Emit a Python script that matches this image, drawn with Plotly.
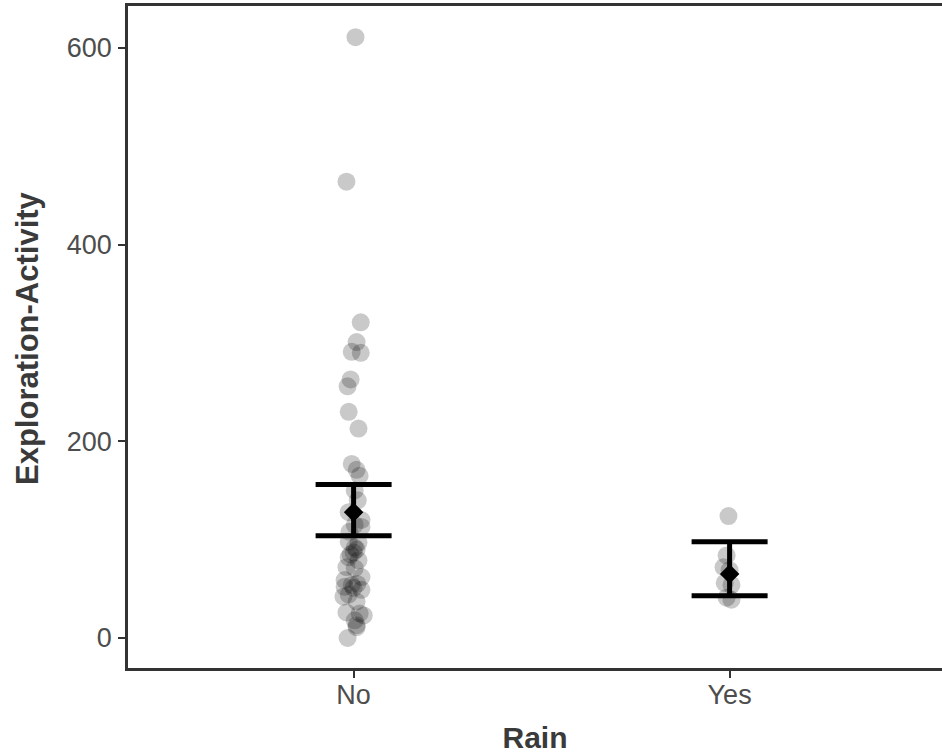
import plotly.graph_objects as go

# ---- data ----
categories = ["No", "Yes"]

no_values = [611, 464, 321, 301, 291, 290, 263, 256, 230, 213, 177, 171, 165, 150,
             140, 128, 120, 115, 113, 108, 98, 97, 92, 90, 87, 85, 82, 79, 72, 71,
             62, 59, 55, 54, 52, 51, 49, 44, 42, 37, 26, 25, 23, 18, 13, 11, 0]
no_jitter = [0.005, -0.019, 0.019, 0.008, -0.005, 0.019, -0.008, -0.016, -0.013, 0.013,
             -0.005, 0.008, 0.016, 0.003, 0.011, -0.013, 0.021, 0.003, 0.021, -0.011,
             -0.013, 0.013, 0.003, 0.008, 0.000, -0.008, -0.013, 0.013, -0.019, 0.003,
             0.021, -0.024, 0.010, -0.005, -0.024, 0.000, 0.021, -0.013, -0.027, 0.008,
             -0.019, 0.016, 0.027, 0.003, 0.008, 0.008, -0.016]

yes_values = [124, 84, 72, 69, 56, 54, 41, 39]
yes_jitter = [-0.003, -0.008, -0.016, 0.000, -0.013, 0.005, -0.008, 0.005]

means = [128, 65]
ci_low = [104, 43]
ci_high = [156, 98]

y_ticks = [0, 200, 400, 600]

# ---- figure ----
fig = go.Figure()

pt_style = dict(size=18, color="rgba(0,0,0,0.21)", line=dict(width=0))

fig.add_trace(go.Scatter(
    x=[1 + j for j in no_jitter], y=no_values, mode="markers",
    marker=pt_style, showlegend=False, hoverinfo="y"))
fig.add_trace(go.Scatter(
    x=[2 + j for j in yes_jitter], y=yes_values, mode="markers",
    marker=pt_style, showlegend=False, hoverinfo="y"))

# error bars (CI) with mean diamonds
fig.add_trace(go.Scatter(
    x=[1, 2], y=means, mode="markers",
    marker=dict(symbol="diamond", size=15, color="black", line=dict(width=0)),
    error_y=dict(type="data", symmetric=False,
                 array=[h - m for h, m in zip(ci_high, means)],
                 arrayminus=[m - l for l, m in zip(ci_low, means)],
                 color="black", thickness=5, width=38),
    showlegend=False))

axis_color = "#333333"
tick_font = dict(family="Liberation Sans, Arial, sans-serif", size=27, color="#4D4D4D")
title_font = dict(family="Liberation Sans, Arial, sans-serif", size=30, color="#3a3a3a")
ytitle_font = dict(family="Liberation Sans, Arial, sans-serif", size=31, color="#3a3a3a")

fig.update_layout(
    width=942, height=756,
    margin=dict(l=128, r=0, t=6, b=88),
    plot_bgcolor="white", paper_bgcolor="white",
    xaxis=dict(
        range=[0.4, 0.4 + 814 / 376],
        tickmode="array", tickvals=[1, 2], ticktext=categories,
        showgrid=False, zeroline=False,
        showline=True, linecolor=axis_color, linewidth=2.5, mirror=True,
        ticks="outside", ticklen=7, tickwidth=2, tickcolor=axis_color,
        tickfont=tick_font, ticklabelstandoff=-6,
        title=dict(text="<b>Rain</b>", font=title_font, standoff=18),
    ),
    yaxis=dict(
        range=[-30.5, 642.7],
        tickmode="array", tickvals=y_ticks, ticktext=[str(v) for v in y_ticks],
        showgrid=False, zeroline=False,
        showline=True, linecolor=axis_color, linewidth=2.5, mirror=False,
        ticks="outside", ticklen=7, tickwidth=2, tickcolor=axis_color,
        tickfont=tick_font, ticklabelstandoff=1,
    ),
    annotations=[dict(
        text="<b>Exploration-Activity</b>", font=ytitle_font, textangle=-90,
        xref="paper", yref="paper", x=-(128 - 27) / 814, y=(668 - 338) / 662,
        xanchor="center", yanchor="middle", showarrow=False,
    )],
)

fig.write_html("out.html", config={"displayModeBar": False},
               post_script="document.body.style.margin='0';")
